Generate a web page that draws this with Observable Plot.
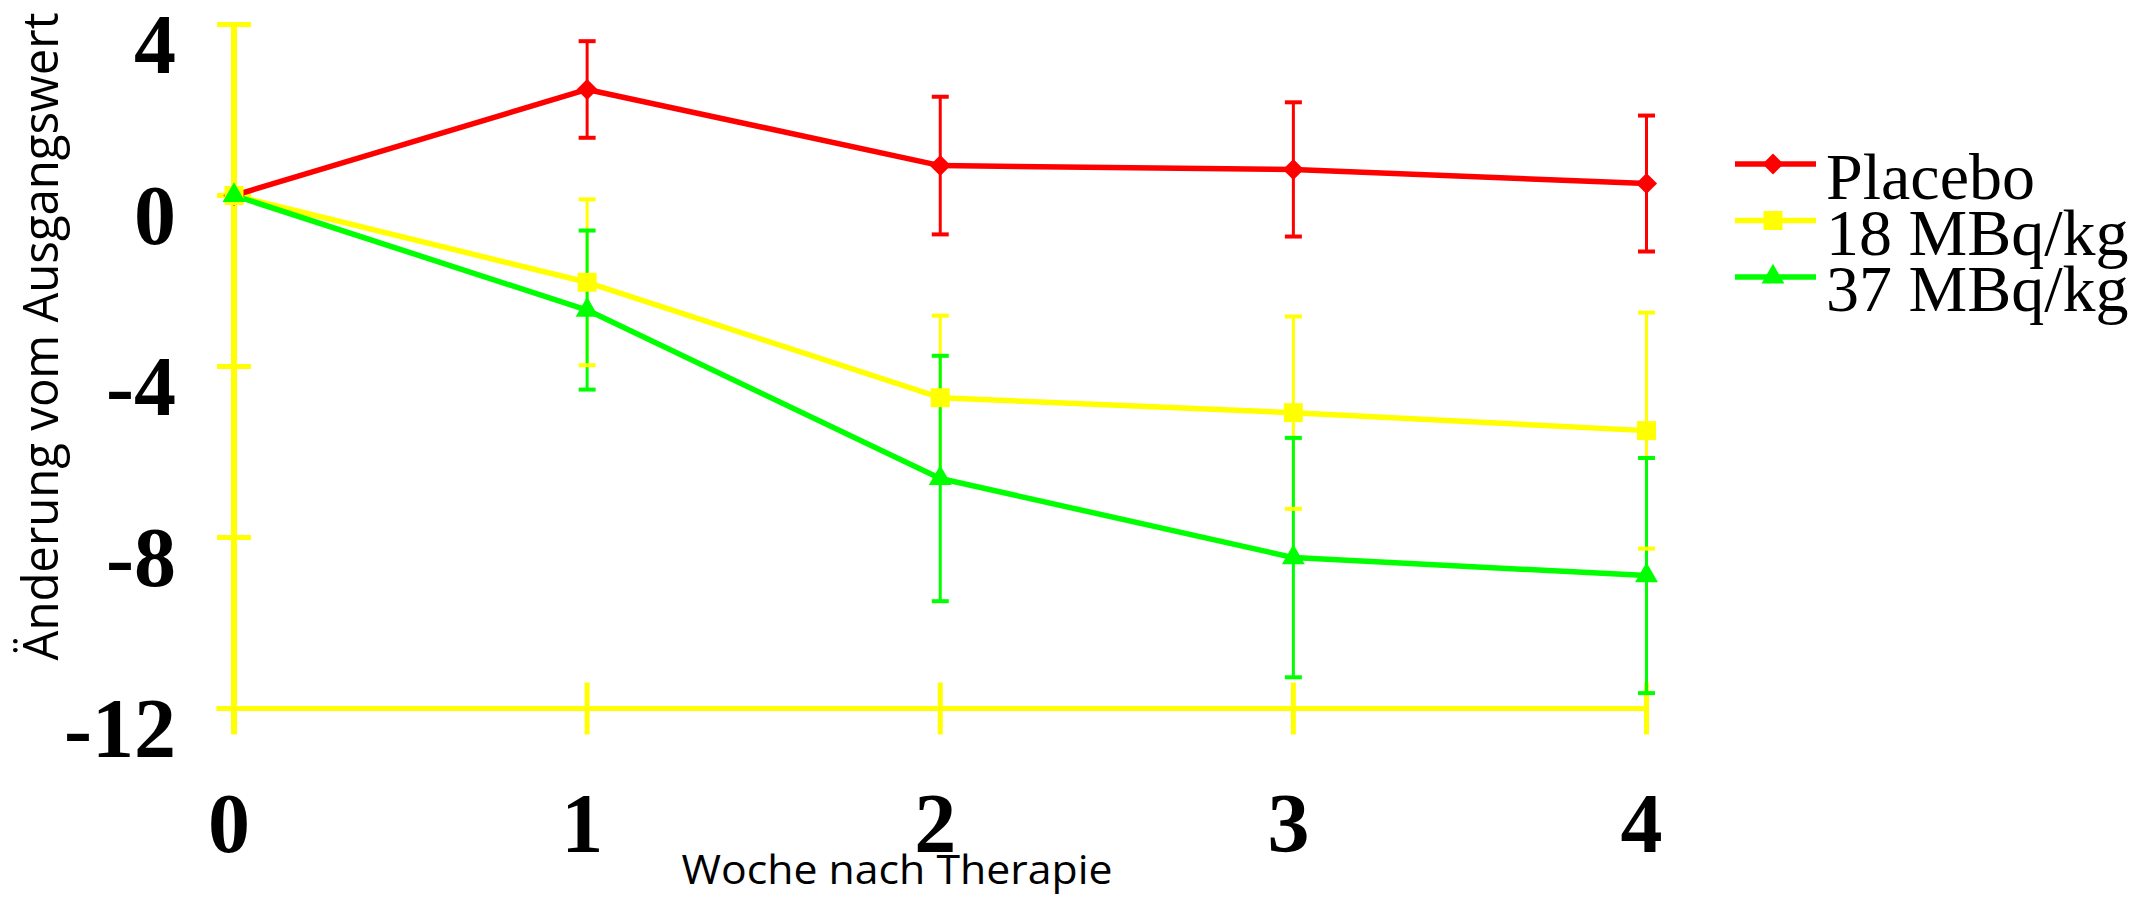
<!DOCTYPE html>
<html><head><meta charset="utf-8">
<script src="https://cdn.jsdelivr.net/npm/d3@7"></script>
<script src="https://cdn.jsdelivr.net/npm/@observablehq/plot@0.6"></script>
<style>
html,body{margin:0;padding:0;background:#fff;}
#wrap{position:relative;width:2148px;height:898px;overflow:hidden;background:#fff;}
#legend{position:absolute;left:1720px;top:130px;}
</style></head><body><div id="wrap"></div>
<script>
// ---- data ----
const weeks = [0, 1, 2, 3, 4];
const seriesNames = ["Placebo", "18 MBq/kg", "37 MBq/kg"];
const placeboMean = [0, 2.48, 0.70, 0.61, 0.28];
const placeboSD   = [null, 1.13, 1.61, 1.57, 1.59];
const dose18Mean  = [0, -2.03, -4.73, -5.08, -5.50];
const dose18SD    = [null, 1.94, 1.92, 2.25, 2.76];
const dose37Mean  = [0, -2.68, -6.62, -8.47, -8.89];
const dose37SD    = [null, 1.86, 2.87, 2.80, 2.75];
const colors = ["#ff0000", "#ffff00", "#00ff00"];
const symbolNames = ["diamond2", "square", "triangle"];
const symbolR = [9.5, 10.7, 8.5];
const xTicks = [0, 1, 2, 3, 4];
const yTicks = [4, 0, -4, -8, -12];
const xTitle = "Woche nach Therapie";
const yTitle = "Änderung vom Ausgangswert";
const axisColor = "#ffff00";

const means = [placeboMean, dose18Mean, dose37Mean];
const sds = [placeboSD, dose18SD, dose37SD];
const rows = [];
seriesNames.forEach((s, i) => weeks.forEach((w, j) => rows.push({series: s, idx: i, week: w, mean: means[i][j], sd: sds[i][j]})));
const errRows = rows.filter(d => d.sd != null);

const hLine = {draw(ctx, size) { const r = Math.sqrt(size / Math.PI); ctx.moveTo(-r, 0); ctx.lineTo(r, 0); }};
const vLine = {draw(ctx, size) { const r = Math.sqrt(size / Math.PI); ctx.moveTo(0, -r); ctx.lineTo(0, r); }};

const dotMarks = seriesNames.map((s, i) =>
  Plot.dot(rows.filter(d => d.idx === i), {x: "week", y: "mean", symbol: symbolNames[i], r: symbolR[i], fill: colors[i], stroke: "none"})
);

const plot = Plot.plot({
  width: 2148, height: 898,
  marginLeft: 233.5, marginRight: 502, marginTop: 24, marginBottom: 190,
  x: {domain: [0, 4]},
  y: {domain: [-12, 4]},
  color: {domain: seriesNames, range: colors},
  style: {background: "white", overflow: "visible"},
  marks: [
    Plot.ruleX([0], {stroke: axisColor, strokeWidth: 6, insetBottom: -26}),
    Plot.ruleY([-12], {stroke: axisColor, strokeWidth: 5, insetLeft: -17}),
    Plot.dot(yTicks, {y: d => d, frameAnchor: "left", symbol: hLine, r: 17, stroke: axisColor, strokeWidth: 5, fill: "none"}),
    Plot.dot(xTicks, {x: d => d, frameAnchor: "bottom", symbol: vLine, r: 26, stroke: axisColor, strokeWidth: 5, fill: "none"}),
    Plot.axisY({ticks: yTicks, tickSize: 0, tickPadding: 58, dy: 22, tickFormat: d => String(d), fontSize: 84, fontWeight: "bold", fontFamily: "Liberation Serif", color: "black", label: null}),
    Plot.axisX({ticks: xTicks, tickSize: 0, tickPadding: 84, dx: -5, tickFormat: d => String(d), fontSize: 84, fontWeight: "bold", fontFamily: "Liberation Serif", color: "black", label: null}),
    Plot.text([yTitle], {text: d => d, frameAnchor: "left", rotate: -90, textAnchor: "start", dx: -192.5, dy: 294, fontSize: 50, fontFamily: "Open Sans", fill: "black"}),
    Plot.text([xTitle], {text: d => d, frameAnchor: "bottom", textAnchor: "start", dx: -258.75, dy: 175, fontSize: 41, fontFamily: "Open Sans", fill: "black"}),
    Plot.ruleX(errRows, {x: "week", y1: d => d.mean - d.sd, y2: d => d.mean + d.sd, stroke: "series", strokeWidth: 3}),
    Plot.dot(errRows, {x: "week", y: d => d.mean + d.sd, symbol: hLine, r: 8.5, stroke: "series", strokeWidth: 4, fill: "none"}),
    Plot.dot(errRows, {x: "week", y: d => d.mean - d.sd, symbol: hLine, r: 8.5, stroke: "series", strokeWidth: 4, fill: "none"}),
    Plot.line(rows, {x: "week", y: "mean", z: "series", stroke: "series", strokeWidth: 5.5}),
    ...dotMarks
  ]
});
document.getElementById("wrap").appendChild(plot);

d3.select(plot).selectAll("text").filter(function() { return this.textContent === xTitle; })
  .attr("textLength", 431).attr("lengthAdjust", "spacingAndGlyphs");
d3.select(plot).selectAll("text").filter(function() { return this.textContent === yTitle; })
  .attr("textLength", 648).attr("lengthAdjust", "spacingAndGlyphs");

// ---- legend ----
const symTypes = {diamond2: d3.symbolDiamond2, square: d3.symbolSquare, triangle: d3.symbolTriangle};
const leg = d3.select("#wrap").append("svg").attr("id", "legend").attr("width", 428).attr("height", 200);
seriesNames.forEach((s, i) => {
  const ly = 34 + 56.5 * i;
  const g = leg.append("g");
  g.append("line").attr("x1", 15).attr("x2", 96).attr("y1", ly).attr("y2", ly)
    .attr("stroke", colors[i]).attr("stroke-width", 5.5);
  g.append("path").attr("transform", `translate(53,${ly})`)
    .attr("d", d3.symbol().type(symTypes[symbolNames[i]]).size(Math.PI * symbolR[i] * symbolR[i])())
    .attr("fill", colors[i]);
  g.append("text").attr("x", 106).attr("y", 69 + 56 * i)
    .attr("font-family", "Liberation Serif").attr("font-size", 66).attr("fill", "black").text(s);
});
</script></body></html>
